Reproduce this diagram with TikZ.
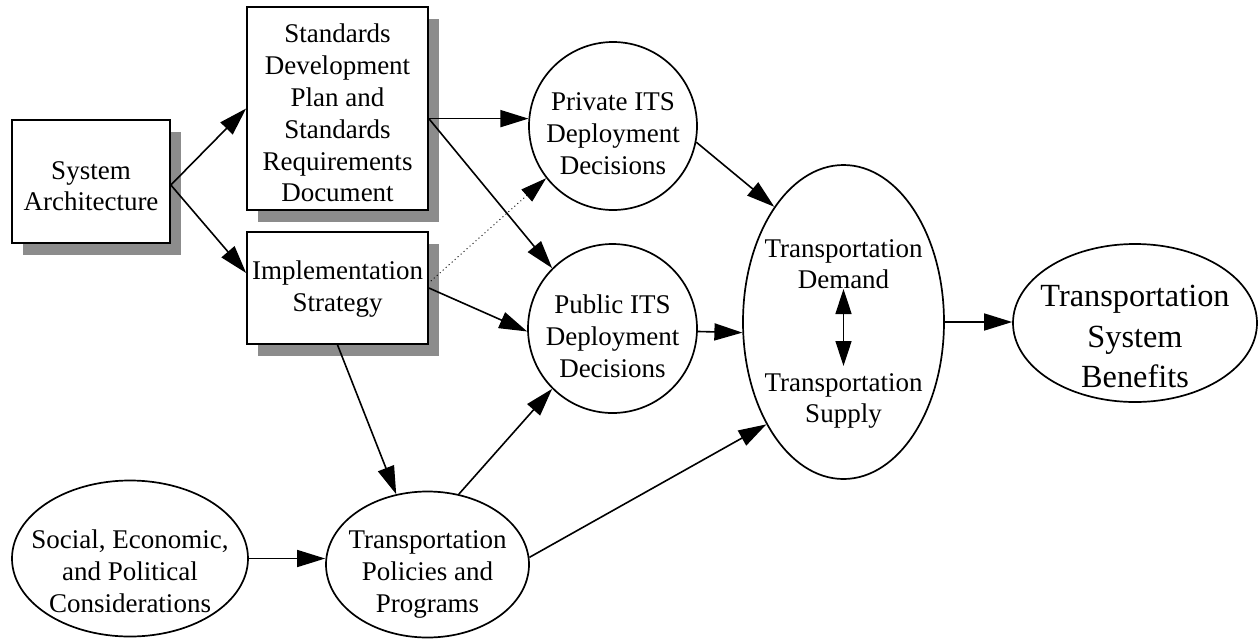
\documentclass[tikz,border=0pt]{standalone}
\usepackage{fontspec}
\setmainfont{Liberation Serif}
\usetikzlibrary{arrows.meta,shapes.geometric,shadows,calc}
\definecolor{shadowgray}{RGB}{140,140,140}
\newcommand\lstrut{\rule[-6.5pt]{0pt}{30.8pt}}
\newcommand\bstrut{\rule[-8pt]{0pt}{37.4pt}}
\begin{document}
\begin{tikzpicture}[x=1pt,y=-1pt,
  outline/.style={draw=black, line width=1.7pt, fill=white, inner sep=0pt},
  boxnode/.style={outline, rectangle, drop shadow={shadow xshift=11pt, shadow yshift=-12pt, fill=shadowgray, opacity=1}},
  oval/.style={outline, ellipse},
  round/.style={outline, circle},
  txt/.style={align=center, inner sep=0pt, font=\fontsize{27}{31.8}\selectfont},
  bigtxt/.style={align=center, inner sep=0pt, font=\fontsize{32.3}{40.5}\selectfont},
  conn/.style={line width=1.6pt, -{Triangle[length=28pt,width=17pt]}},
  dotconn/.style={line width=0.9pt, dash pattern=on 1pt off 3pt, -{Triangle[length=26pt,width=16pt]}},
  dblconn/.style={line width=1.6pt, {Triangle[length=25pt,width=16pt]}-{Triangle[length=25pt,width=16pt]}}
]
\useasboundingbox (0,0) rectangle (1259,638);

% shapes
\node[boxnode, minimum width=158pt, minimum height=123pt] (sa) at (91,181.5) {};
\node[boxnode, minimum width=181pt, minimum height=203pt] (sd) at (337.5,108.5) {};
\node[boxnode, minimum width=181pt, minimum height=112pt] (is) at (337.5,288) {};
\node[round, minimum size=168pt] (priv) at (613,126) {};
\node[round, minimum size=169pt] (pub) at (612.5,328.5) {};
\node[oval, minimum width=201pt, minimum height=314pt] (td) at (843.5,322) {};
\node[oval, minimum width=244pt, minimum height=158pt] (ben) at (1135,323) {};
\node[oval, minimum width=236pt, minimum height=156pt] (soc) at (130,558.5) {};
\node[oval, minimum width=203pt, minimum height=146pt] (pol) at (427.5,564.5) {};

% texts
\node[txt] (sat) at (91,186) {\lstrut System\\\lstrut Architecture};
\node[txt] (sdt) at (337.5,113.5) {\lstrut Standards\\\lstrut Development\\\lstrut Plan and\\\lstrut Standards\\\lstrut Requirements\\\lstrut Document};
\node[txt] (ist) at (337.5,286.7) {\lstrut Implementation\\\lstrut Strategy};
\node[txt] (privt) at (613,133.3) {\lstrut Private ITS\\\lstrut Deployment\\\lstrut Decisions};
\node[txt] (pubt) at (612.5,336.7) {\lstrut Public ITS\\\lstrut Deployment\\\lstrut Decisions};
\node[txt] (tdt) at (843.5,264) {\lstrut Transportation\\\lstrut Demand};
\node[txt] (tst) at (843.5,398) {\lstrut Transportation\\\lstrut Supply};
\node[bigtxt] (bent) at (1135,336.5) {\bstrut Transportation\\\bstrut System\\\bstrut Benefits};
\node[txt] (soct) at (130,571.7) {\lstrut Social, Economic,\\\lstrut and Political\\\lstrut Considerations};
\node[txt] (polt) at (427.5,571.7) {\lstrut Transportation\\\lstrut Policies and\\\lstrut Programs};

% connectors
\draw[conn] ([yshift=-3.5pt]sa.east) -- (sd.west);
\draw[conn] ([yshift=-3.5pt]sa.east) -- ([yshift=15pt]is.west);
\draw[conn] (sd.east |- priv.175) -- (priv.175);
\draw[conn] (sd.east |- priv.175) -- (pub.135);
\draw[dotconn] ([shift={(2pt,7pt)}]is.east) -- (priv.218);
\draw[conn] (is.east) -- (pub.182);
\draw[conn] (is.south) -- (pol.114);
\draw[conn] (pol.66) -- (pub.225);
\draw[conn] (pol.4) -- (td.233);
\draw[conn] (priv.-11) -- (td.121);
\draw[conn] (pub.-2) -- (td.186);
\draw[conn] (td.east) -- (td.east -| ben.west);
\draw[conn] (soc.east) -- (soc.east -| pol.west);
\coordinate (dtop) at (843.5,289);
\coordinate (dbot) at (843.5,366);
\draw[dblconn] (dtop) -- (dbot);
\end{tikzpicture}
\end{document}
